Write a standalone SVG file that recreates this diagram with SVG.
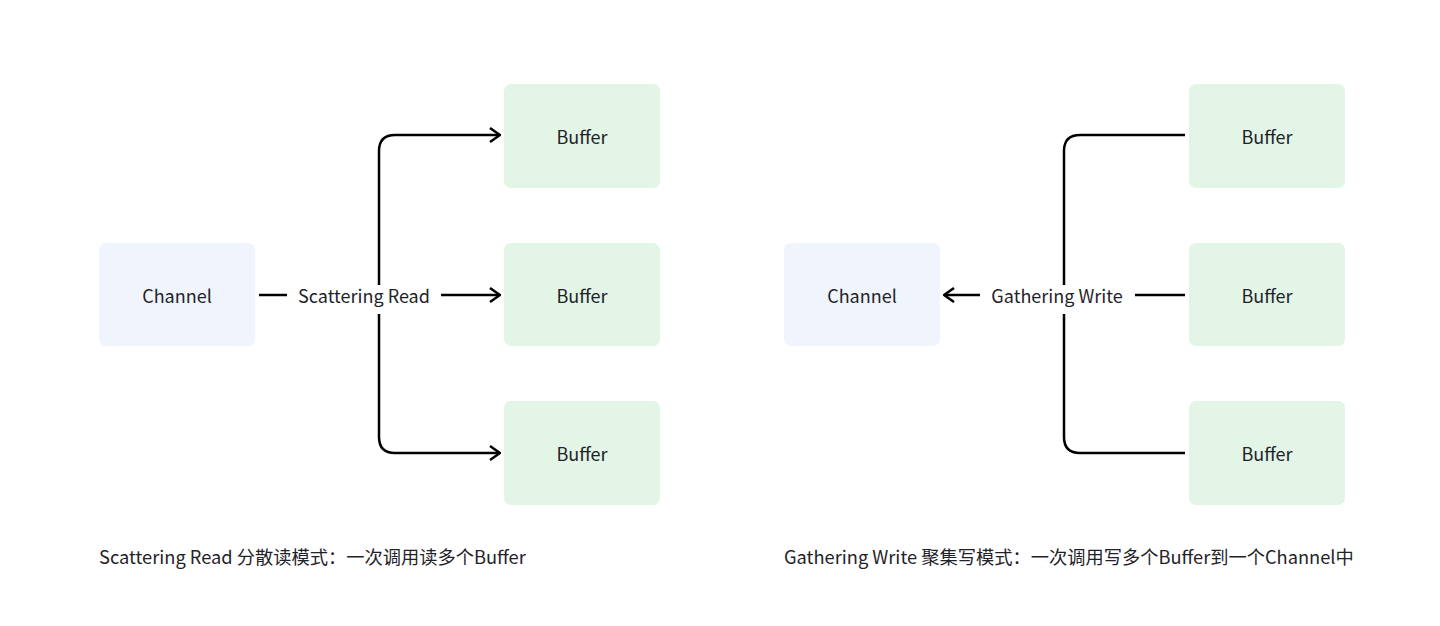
<svg xmlns="http://www.w3.org/2000/svg" width="1440" height="626" viewBox="0 0 1440 626">
<style>
text{font-family:"Noto Sans CJK SC","Noto Sans",sans-serif;font-size:18px;fill:#1f2329}
.cap{font-size:18.25px}
.ch{fill:#f0f4fc}
.bf{fill:#e2f5e6}
.c{fill:none;stroke:#000;stroke-width:2.5;stroke-linecap:butt;stroke-linejoin:round}
.lbl{text-anchor:middle;dominant-baseline:central}
</style>
<defs>
<marker id="ah" viewBox="0 0 12 16" refX="11" refY="8" markerWidth="12" markerHeight="16" markerUnits="userSpaceOnUse" orient="auto">
<path d="M1 1 L11 8 L1 15" fill="none" stroke="#000" stroke-width="2.5" stroke-linejoin="miter"/>
</marker>
</defs>
<rect width="1440" height="626" fill="#fff"/>
<g id="connectors">
<path class="c" d="M259 295 H287"/>
<path class="c" d="M441 295 H500" marker-end="url(#ah)"/>
<path class="c" d="M379 285 V151 Q379 135 395 135 H500" marker-end="url(#ah)"/>
<path class="c" d="M379 314 V437 Q379 453 395 453 H500" marker-end="url(#ah)"/>
<path class="c" d="M980 295 H944" marker-end="url(#ah)"/>
<path class="c" d="M1185 295 H1135"/>
<path class="c" d="M1185 135 H1080 Q1064 135 1064 151 V285"/>
<path class="c" d="M1185 453 H1080 Q1064 453 1064 437 V314"/>
<text class="lbl" x="364" y="295">Scattering Read</text>
<text class="lbl" x="1057" y="295">Gathering Write</text>
</g>
<g id="channel-left"><rect class="ch" x="99" y="243" width="156" height="103" rx="7"/><text class="lbl" x="177" y="295">Channel</text></g>
<g id="buffer-l1"><rect class="bf" x="504" y="84" width="156" height="104" rx="7"/><text class="lbl" x="582" y="136">Buffer</text></g>
<g id="buffer-l2"><rect class="bf" x="504" y="243" width="156" height="103" rx="7"/><text class="lbl" x="582" y="295">Buffer</text></g>
<g id="buffer-l3"><rect class="bf" x="504" y="401" width="156" height="104" rx="7"/><text class="lbl" x="582" y="453">Buffer</text></g>
<g id="channel-right"><rect class="ch" x="784" y="243" width="156" height="103" rx="7"/><text class="lbl" x="862" y="295">Channel</text></g>
<g id="buffer-r1"><rect class="bf" x="1189" y="84" width="156" height="104" rx="7"/><text class="lbl" x="1267" y="136">Buffer</text></g>
<g id="buffer-r2"><rect class="bf" x="1189" y="243" width="156" height="103" rx="7"/><text class="lbl" x="1267" y="295">Buffer</text></g>
<g id="buffer-r3"><rect class="bf" x="1189" y="401" width="156" height="104" rx="7"/><text class="lbl" x="1267" y="453">Buffer</text></g>
<g id="captions">
<text class="cap" x="99" y="564">Scattering Read 分散读模式：一次调用读多个Buffer</text>
<text class="cap" x="784" y="564">Gathering Write 聚集写模式：一次调用写多个Buffer到一个Channel中</text>
</g>
</svg>
